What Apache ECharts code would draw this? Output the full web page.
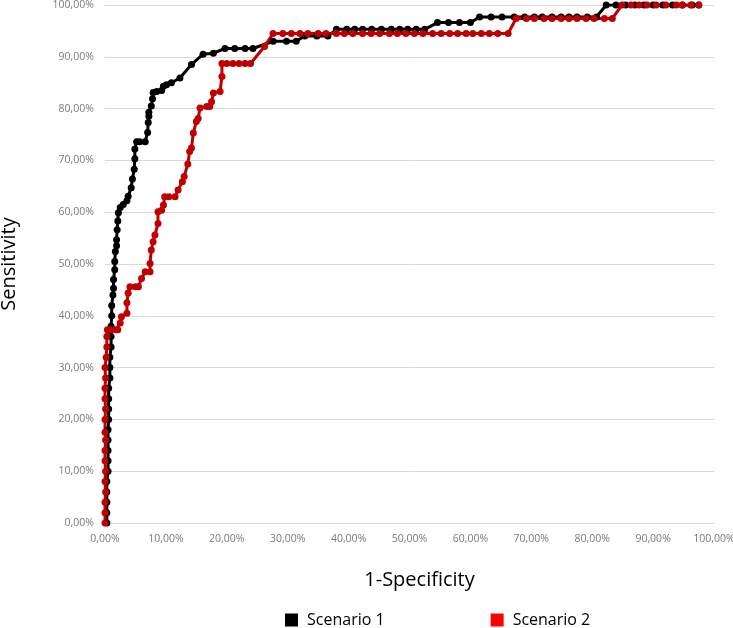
<!DOCTYPE html>
<html>
<head>
<meta charset="utf-8">
<script src="https://cdn.jsdelivr.net/npm/echarts@6/dist/echarts.min.js"></script>
<style>
html,body{margin:0;padding:0;background:#fff;}
#chart{width:733px;height:628px;}
</style>
</head>
<body>
<div id="chart"></div>
<script>
// 1-Specificity (%) and Sensitivity (%)
var scenario1X = [0.3,0.3,0.3,0.3,0.3,0.5,0.5,0.5,0.5,0.5,0.6,0.6,0.6,0.6,0.8,0.8,0.8,1.0,1.0,1.0,1.1,1.1,1.3,1.4,1.4,1.6,1.6,1.7,1.9,1.9,2.0,2.1,2.2,2.5,3.0,3.6,3.8,4.3,4.5,4.8,4.9,4.9,5.2,5.7,6.6,7.0,7.1,7.2,7.2,7.6,7.8,7.9,8.5,9.3,9.6,10.1,10.9,12.3,14.2,16.1,17.8,19.7,21.3,23.0,24.3,27.6,29.8,31.4,32.8,34.8,36.6,38.0,39.7,41.0,42.3,43.8,45.4,47.0,48.4,49.7,51.1,52.5,54.6,56.4,58.2,60.0,61.5,63.4,65.2,67.2,68.9,70.5,71.8,73.4,74.9,76.2,77.5,79.2,80.7,82.3,83.9,85.5,87.0,88.5,90.0,91.6,93.2,94.8,96.4,97.5];
var scenario1Y = [0,2,4,6,8,10,12,14,16,18,20,22,24,26,28,30,32,34,36,38,40,42,44,45.3,47,48.9,50.5,52.4,53.5,54.7,56.6,58.3,59.9,60.9,61.5,62.2,63.1,64.7,66.4,68.3,70.3,72.2,73.6,73.6,73.6,75.4,77.3,78.5,79.3,80.5,81.9,83.1,83.3,83.5,84.3,84.6,85.0,85.9,88.5,90.5,90.7,91.6,91.6,91.6,91.6,93.0,93.0,93.0,94.0,94.0,94.0,95.3,95.3,95.3,95.3,95.3,95.3,95.3,95.3,95.3,95.3,95.3,96.6,96.6,96.6,96.6,97.7,97.7,97.7,97.7,97.7,97.7,97.7,97.7,97.7,97.7,97.7,97.7,97.7,100,100,100,100,100,100,100,100,100,100,100];

var scenario2X = [0.0,0.0,0.0,0.1,0.0,0.1,0.0,0.0,0.1,0.0,0.0,0.1,0.0,0.0,0.1,0.0,0.2,0.3,0.3,0.4,1.0,1.8,2.1,2.5,2.7,3.6,3.6,3.8,4.1,5.0,5.5,6.0,6.6,7.4,7.4,7.6,7.9,8.2,8.7,8.7,9.3,9.6,9.8,10.5,11.5,12.0,12.7,13.0,13.6,13.9,14.2,14.5,15.0,15.3,15.6,16.7,17.2,17.5,17.8,18.9,19.2,19.2,20.0,21.0,22.0,23.0,23.9,26.2,27.6,29.2,30.6,32.0,33.3,35.0,36.3,38.0,39.3,40.7,42.3,43.7,45.1,46.7,48.0,49.4,50.8,52.2,53.8,55.2,56.6,57.9,59.3,60.4,61.8,63.1,64.5,66.2,67.5,69.2,70.5,72.1,73.4,74.9,76.2,77.5,79.0,80.3,82.0,83.3,84.9,86.4,87.7,89.0,90.5,92.1,93.8,94.8,96.2,97.5];
var scenario2Y = [0,2,4,6,8,10,12,14,16,17.5,20,22,24,26,28,30,32,34,36,37.3,37.3,37.3,37.3,38.6,39.8,40.5,42.5,44.4,45.6,45.6,45.6,47.2,48.5,48.5,50.1,52.7,54.3,55.6,57.8,60.1,60.4,61.4,63.0,63.0,63.0,64.3,65.9,66.9,69.3,71.7,72.4,75.3,77.5,78.1,80.1,80.4,80.4,81.3,83.0,83.3,86.2,88.7,88.7,88.7,88.7,88.7,88.7,92.0,94.5,94.5,94.5,94.5,94.5,94.5,94.5,94.5,94.5,94.5,94.5,94.5,94.5,94.5,94.5,94.5,94.5,94.5,94.5,94.5,94.5,94.5,94.5,94.5,94.5,94.5,94.5,94.5,97.4,97.4,97.4,97.4,97.4,97.4,97.4,97.4,97.4,97.4,97.4,97.4,100,100,100,100,100,100,100,100,100,100];

var seriesNames = ['Scenario 1', 'Scenario 2'];
var axisTicks = [0,10,20,30,40,50,60,70,80,90,100];

function pairs(xs, ys){ return xs.map(function(x,i){ return [x, ys[i]]; }); }
function pct(v){ return v.toFixed(2).replace('.', ',') + '%'; }

var chart = echarts.init(document.getElementById('chart'));
var tickStyle = {color:'#7a7a7a', fontSize:10.5, fontFamily:'Open Sans'};
chart.setOption({
  animation:false,
  backgroundColor:'#ffffff',
  grid:{left:105, right:19, top:5, bottom:105, containLabel:false, outerBoundsMode:'none'},
  xAxis:{
    type:'value', min:axisTicks[0], max:axisTicks[axisTicks.length-1], interval:10,
    name:'1-Specificity', nameLocation:'middle', nameGap:47,
    nameTextStyle:{color:'#000', fontSize:20, fontFamily:'Open Sans', padding:[0,0,0,20]},
    axisLine:{show:true, lineStyle:{color:'#d9d9d9'}},
    axisTick:{show:false},
    splitLine:{show:false},
    axisLabel:Object.assign({formatter:pct, margin:11}, tickStyle)
  },
  yAxis:{
    type:'value', min:axisTicks[0], max:axisTicks[axisTicks.length-1], interval:10,
    name:'Sensitivity', nameLocation:'middle', nameGap:86, nameRotate:90,
    nameTextStyle:{color:'#000', fontSize:20, fontFamily:'Open Sans'},
    axisLine:{show:false}, axisTick:{show:false},
    splitLine:{show:true, lineStyle:{color:'#d9d9d9', width:1}},
    axisLabel:Object.assign({formatter:pct, margin:11}, tickStyle)
  },
  legend:{
    top:607, left:280, icon:'rect', itemWidth:13, itemHeight:13, itemGap:106,
    textStyle:{color:'#000', fontSize:16, fontFamily:'Open Sans', padding:[0,0,0,4]},
    data:[{name:seriesNames[0], itemStyle:{color:'#000000'}},{name:seriesNames[1], itemStyle:{color:'#ff0000'}}]
  },
  series:[
    {name:seriesNames[0], type:'line', data:pairs(scenario1X, scenario1Y), symbol:'circle', symbolSize:7,
     lineStyle:{color:'#000000', width:3}, itemStyle:{color:'#000000'}},
    {name:seriesNames[1], type:'line', data:pairs(scenario2X, scenario2Y), symbol:'circle', symbolSize:7,
     lineStyle:{color:'#c00000', width:3}, itemStyle:{color:'#c00000'}}
  ]
});
</script>
</body>
</html>
